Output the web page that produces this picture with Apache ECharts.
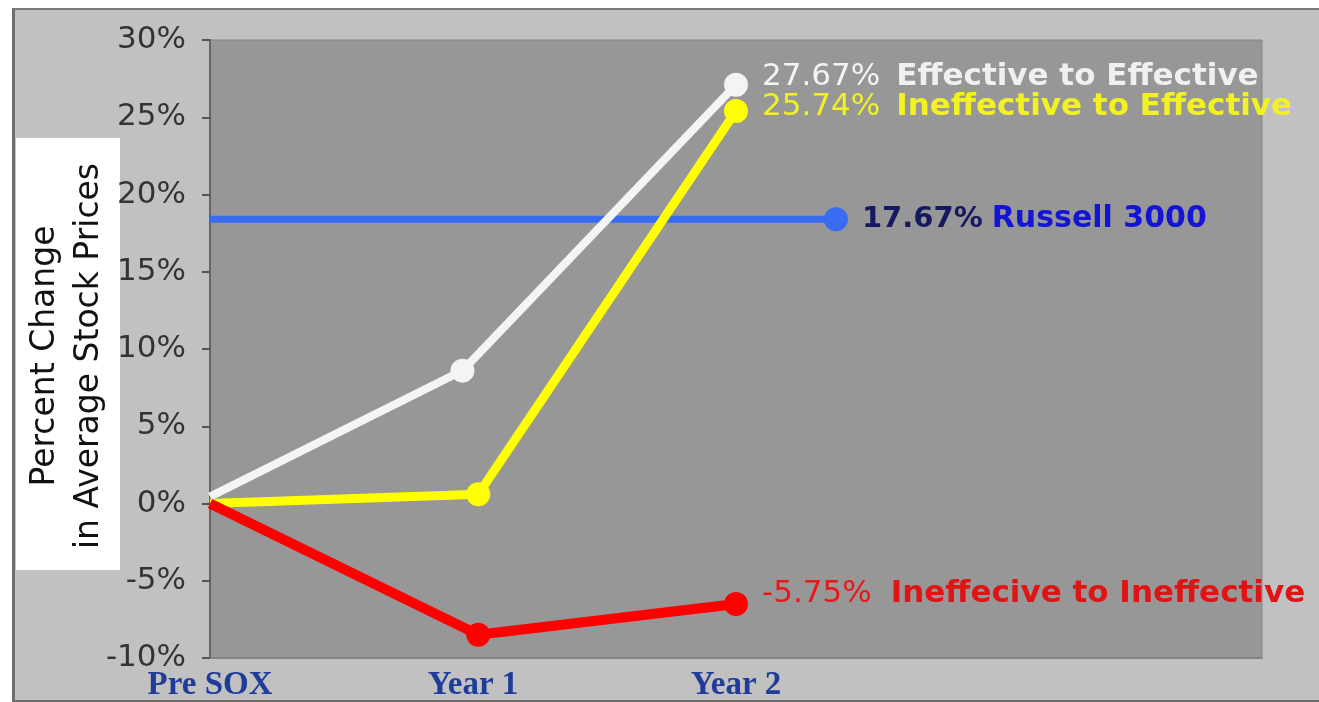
<!DOCTYPE html>
<html>
<head>
<meta charset="utf-8">
<script src="https://cdn.jsdelivr.net/npm/echarts@6/dist/echarts.min.js"></script>
<style>
  html, body { margin: 0; padding: 0; background: #ffffff; overflow: hidden; }
  #frame {
    position: absolute; left: 12px; top: 8px; width: 1330px; height: 690px;
    background: #c1c1c1; border-left: 3px solid #6e6e6e; border-top: 2px solid #7a7a7a;
    border-bottom: 3px solid #6e6e6e;
  }
  #chart { position: absolute; left: 0; top: 0; width: 1319px; height: 702px; }
</style>
</head>
<body>
<div id="frame"></div>
<div id="chart"></div>
<script>
// x positions: 0 = Pre SOX, 1 = Year 1, 2 = Year 2
const xLabels = ['Pre SOX', 'Year 1', 'Year 2'];

const effToEffX = [0, 0.96, 2];
const effToEff = [0.45, 8.6, 27.1];

const inefToEffX = [0, 1.02, 2];
const inefToEff = [0, 0.6, 25.4];

const inefToInefX = [0, 1.02, 2];
const inefToInef = [0, -8.5, -6.5];

const russellX = [0, 2.38];
const russell = [18.4, 18.4];

// end-of-line annotations
const effToEffLabel = ['27.67%', 'Effective to Effective'];
const inefToEffLabel = ['25.74%', 'Ineffective to Effective'];
const inefToInefLabel = ['-5.75%', 'Ineffecive to Ineffective'];
const russellLabel = ['17.67%', 'Russell 3000'];

const chart = echarts.init(document.getElementById('chart'));

// builds one line series: no dot at the start, label only on the last point
function makeSeries(name, xs, ys, color, width, label, numStyle, textStyle, dy) {
  const data = ys.map((y, i) => {
    const item = { value: [xs[i], y] };
    if (i === 0) item.symbol = 'none';
    if (i === ys.length - 1) {
      item.label = {
        show: true,
        position: 'right',
        distance: 14,
        offset: [0, dy],
        formatter: '{n|' + label[0] + '}{t|' + label[1] + '}',
        rich: { n: numStyle, t: textStyle }
      };
    }
    return item;
  });
  return {
    name: name,
    type: 'line',
    data: data,
    showAllSymbol: true,
    symbol: 'circle',
    symbolSize: 24,
    clip: false,
    lineStyle: { color: color, width: width },
    itemStyle: { color: color },
    label: { show: false },
    emphasis: { disabled: true }
  };
}

const font = 'DejaVu Sans';

const option = {
  animation: false,
  grid: {
    left: 210, top: 40, width: 1052, height: 623,
    show: true, backgroundColor: '#979797', borderColor: '#858585', borderWidth: 1
  },
  xAxis: {
    type: 'value', min: 0, max: 4, interval: 1,
    axisLine: { show: true, onZero: false, lineStyle: { color: '#858585', width: 2 } },
    axisTick: { show: false },
    splitLine: { show: false },
    axisLabel: {
      margin: 11,
      color: '#1f3c98',
      fontFamily: 'Liberation Serif',
      fontWeight: 'bold',
      fontSize: 33,
      formatter: v => xLabels[v] || ''
    }
  },
  yAxis: {
    type: 'value', min: -10, max: 30, interval: 5,
    axisLine: { show: true, lineStyle: { color: '#666666', width: 2 } },
    axisTick: { show: true, length: 8, lineStyle: { color: '#555555', width: 2 } },
    splitLine: { show: false },
    axisLabel: {
      margin: 24,
      color: '#333333',
      fontFamily: font,
      fontSize: 31,
      formatter: '{value}%'
    }
  },
  graphic: [
    {
      type: 'rect', left: 16, top: 138, z: 0,
      shape: { width: 104, height: 432 },
      style: { fill: '#ffffff' }
    },
    {
      type: 'text', x: 67, y: 356, rotation: Math.PI / 2, z: 1,
      style: {
        text: 'Percent Change\nin Average Stock Prices',
        fill: '#111111',
        font: '33px "DejaVu Sans"',
        align: 'center',
        verticalAlign: 'middle',
        lineHeight: 44
      }
    }
  ],
  series: [
    makeSeries('Russell 3000', russellX, russell, '#3a6cf2', 7, russellLabel,
      { fontFamily: font, fontWeight: 'bold', fontSize: 29, color: '#15195e', padding: [0, 9, 0, 0] },
      { fontFamily: font, fontWeight: 'bold', fontSize: 30, color: '#1414d4' }, 0),
    makeSeries('Effective to Effective', effToEffX, effToEff, '#f4f4f4', 8, effToEffLabel,
      { fontFamily: font, fontSize: 31, color: '#f4f4f4', padding: [0, 16, 0, 0] },
      { fontFamily: font, fontWeight: 'bold', fontSize: 31, color: '#f0f0f0' }, -8),
    makeSeries('Ineffective to Effective', inefToEffX, inefToEff, '#ffff00', 9, inefToEffLabel,
      { fontFamily: font, fontSize: 31, color: '#f2f222', padding: [0, 16, 0, 0] },
      { fontFamily: font, fontWeight: 'bold', fontSize: 31, color: '#f2f222' }, -4),
    makeSeries('Ineffective to Ineffective', inefToInefX, inefToInef, '#ff0000', 10, inefToInefLabel,
      { fontFamily: font, fontSize: 31, color: '#e81818', padding: [0, 19, 0, 0] },
      { fontFamily: font, fontWeight: 'bold', fontSize: 31, color: '#e01414' }, -10)
  ]
};

chart.setOption(option);
</script>
</body>
</html>
